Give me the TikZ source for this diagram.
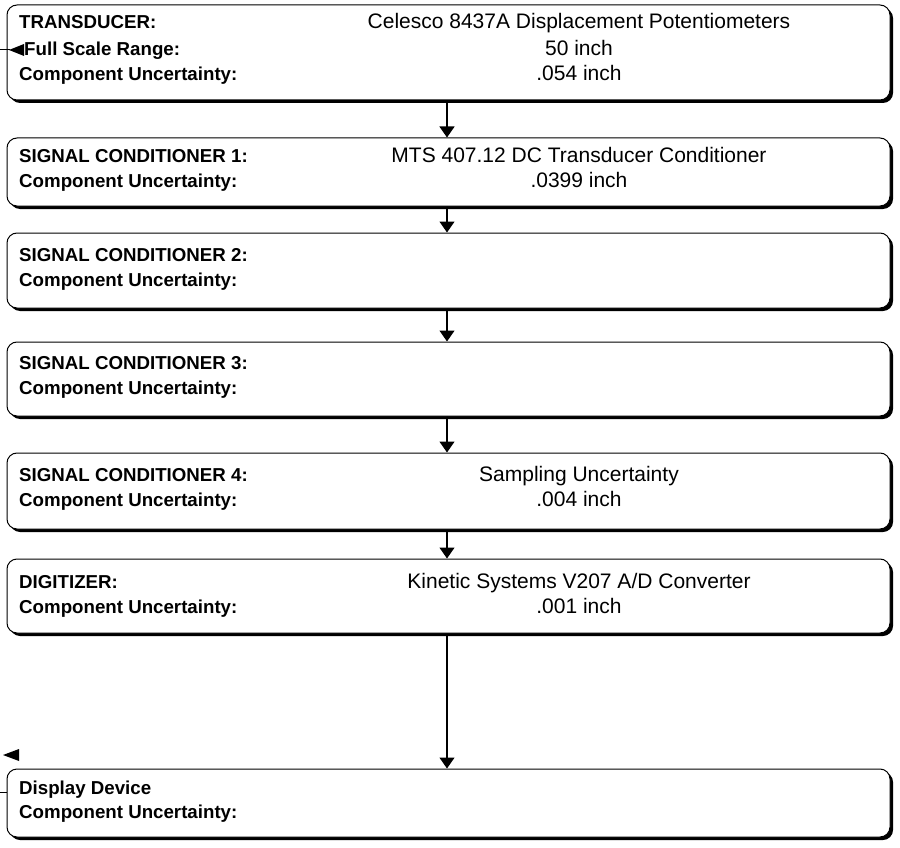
\documentclass[tikz,border=0pt]{standalone}
\usepackage{fontspec}
\setmainfont{Liberation Sans}
\usetikzlibrary{arrows.meta,shadows}
\begin{document}
\begin{tikzpicture}[x=1pt,y=-1pt,
  blk/.style={draw=black, line width=1pt, fill=white, rounded corners=10pt, inner sep=0pt,
    minimum width=883pt,
    general shadow={fill=black, shadow xshift=3pt, shadow yshift=-3pt}},
  lab/.style={anchor=base west, font=\fontsize{18.7}{20}\selectfont\bfseries, inner sep=0pt},
  val/.style={anchor=base, font=\fontsize{21}{23}\selectfont, inner sep=0pt},
  arr/.style={line width=1.2pt, -{Triangle[width=15pt,length=11pt]}},
  blot/.style={fill=black}]
\useasboundingbox (0,0) rectangle (900,848);

\node[blk, minimum height=95pt] (b1) at (448.5,52.5) {};
\node[blk, minimum height=68pt] (b2) at (448.5,172) {};
\node[blk, minimum height=75pt] (b3) at (448.5,270.5) {};
\node[blk, minimum height=74pt] (b4) at (448.5,379) {};
\node[blk, minimum height=76pt] (b5) at (448.5,491) {};
\node[blk, minimum height=74pt] (b6) at (448.5,596) {};
\node[blk, minimum height=68pt] (b7) at (448.5,803) {};

% box 1
\node[lab] (l11) at (19,28.5) {TRANSDUCER:};
\node[lab] (l12) at (24,56) {Full Scale Range:};
\node[lab] (l13) at (19,81) {Component Uncertainty:};
\node[val] (v11) at (579,28.5) {Celesco 8437A Displacement Potentiometers};
\node[val] (v12) at (579,56) {50 inch};
\node[val] (v13) at (579,81) {.054 inch};
% box 2
\node[lab] (l21) at (19,162.5) {SIGNAL CONDITIONER 1:};
\node[lab] (l22) at (19,187.5) {Component Uncertainty:};
\node[val] (v21) at (579,162.5) {MTS 407.12 DC Transducer Conditioner};
\node[val] (v22) at (579,187.5) {.0399 inch};
% box 3
\node[lab] (l31) at (19,261.5) {SIGNAL CONDITIONER 2:};
\node[lab] (l32) at (19,286.5) {Component Uncertainty:};
% box 4
\node[lab] (l41) at (19,369.5) {SIGNAL CONDITIONER 3:};
\node[lab] (l42) at (19,394.5) {Component Uncertainty:};
% box 5
\node[lab] (l51) at (19,481.5) {SIGNAL CONDITIONER 4:};
\node[lab] (l52) at (19,506.5) {Component Uncertainty:};
\node[val] (v51) at (579,481.5) {Sampling Uncertainty};
\node[val] (v52) at (579,506.5) {.004 inch};
% box 6
\node[lab] (l61) at (19,588.5) {DIGITIZER:};
\node[lab] (l62) at (19,613.5) {Component Uncertainty:};
\node[val] (v61) at (579,588.5) {Kinetic Systems V207 A/D Converter};
\node[val] (v62) at (579,613.5) {.001 inch};
% box 7
\node[lab] (l71) at (19,794.5) {Display Device};
\node[lab] (l72) at (19,818.5) {Component Uncertainty:};

% connectors
\draw[arr] ([xshift=-1.5pt]b1.south) -- ([xshift=-1.5pt]b2.north);
\draw[arr] ([xshift=-1.5pt]b2.south) -- ([xshift=-1.5pt]b3.north);
\draw[arr] ([xshift=-1.5pt]b3.south) -- ([xshift=-1.5pt]b4.north);
\draw[arr] ([xshift=-1.5pt]b4.south) -- ([xshift=-1.5pt]b5.north);
\draw[arr] ([xshift=-1.5pt]b5.south) -- ([xshift=-1.5pt]b6.north);
\draw[arr] ([xshift=-1.5pt]b6.south) -- ([xshift=-1.5pt]b7.north);

% stray marks
\draw[line width=1pt] (0,50) -- (10,50);
\fill[blot] (9,50) -- (24,44) -- (24,56) -- cycle;
\fill[blot] (3,755) -- (19,749) -- (19,761) -- cycle;
\draw[line width=1pt] (0,792) -- (7,792);
\end{tikzpicture}
\end{document}
